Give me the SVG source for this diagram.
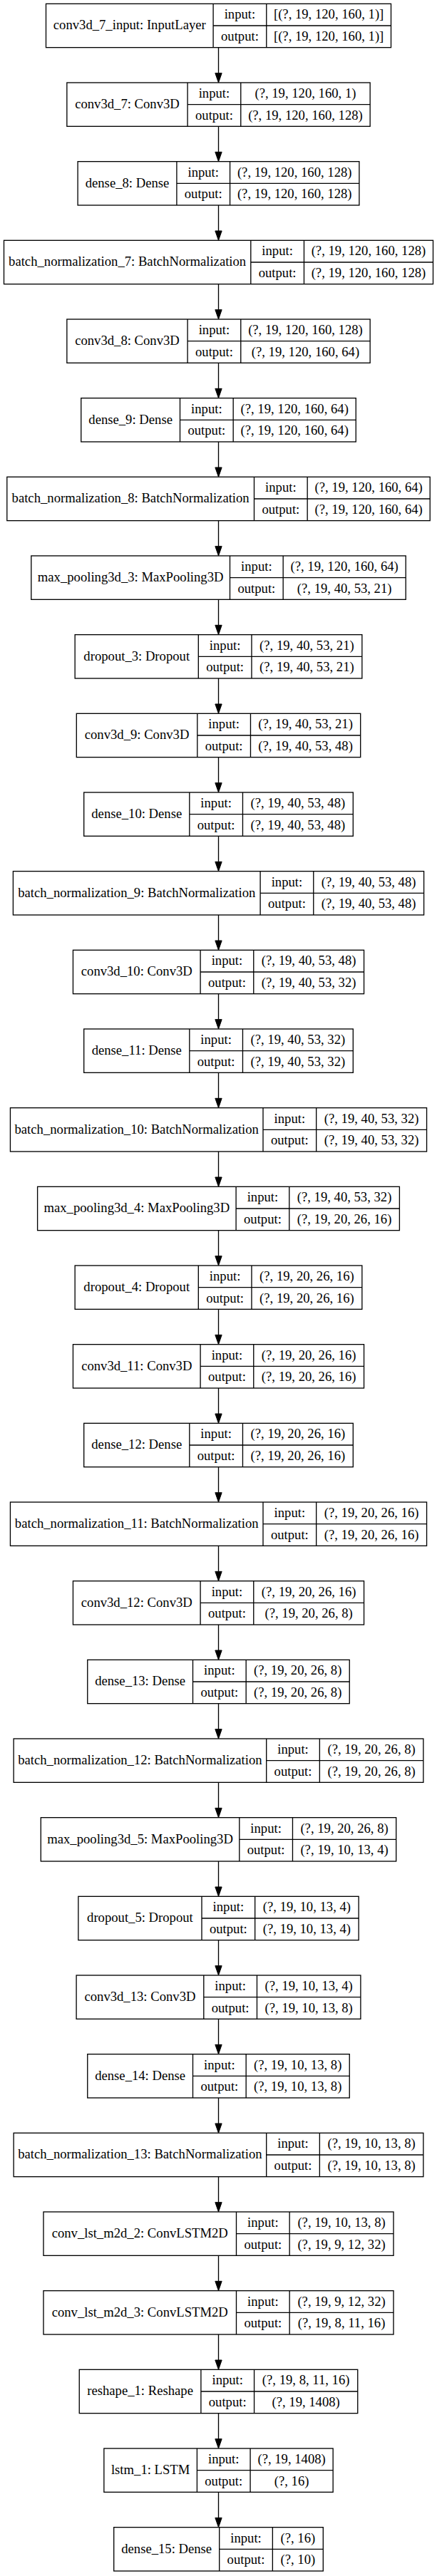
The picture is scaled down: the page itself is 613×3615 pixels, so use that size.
<svg xmlns="http://www.w3.org/2000/svg" width="613" height="3615" viewBox="0 0 613 3615">
<style>
.node rect{fill:#fff;stroke:#000;stroke-width:1.33}
.node path{fill:none;stroke:#000;stroke-width:1.33}
.node text{font-family:"Liberation Serif","Times New Roman",serif;font-size:18.67px;fill:#000;text-anchor:middle}
#edges line{stroke:#000;stroke-width:1.33;marker-end:url(#ah)}
</style>
<defs>
<marker id="ah" markerUnits="userSpaceOnUse" markerWidth="14" markerHeight="10" refX="0" refY="4.67" orient="auto" overflow="visible">
<path d="M0,0L13.33,4.67L0,9.33Z" fill="#000" stroke="#000" stroke-width="1"/>
</marker>
</defs>
<rect width="613" height="3615" fill="#fff"/>
<g id="edges">
<line x1="306.5" y1="66.67" x2="306.5" y2="102.67"/>
<line x1="306.5" y1="177.33" x2="306.5" y2="213.33"/>
<line x1="306.5" y1="288" x2="306.5" y2="324"/>
<line x1="306.5" y1="398.67" x2="306.5" y2="434.67"/>
<line x1="306.5" y1="509.33" x2="306.5" y2="545.33"/>
<line x1="306.5" y1="620" x2="306.5" y2="656"/>
<line x1="306.5" y1="730.67" x2="306.5" y2="766.67"/>
<line x1="306.5" y1="841.33" x2="306.5" y2="877.33"/>
<line x1="306.5" y1="952" x2="306.5" y2="988"/>
<line x1="306.5" y1="1062.67" x2="306.5" y2="1098.67"/>
<line x1="306.5" y1="1173.33" x2="306.5" y2="1209.33"/>
<line x1="306.5" y1="1284" x2="306.5" y2="1320"/>
<line x1="306.5" y1="1394.67" x2="306.5" y2="1430.67"/>
<line x1="306.5" y1="1505.33" x2="306.5" y2="1541.33"/>
<line x1="306.5" y1="1616" x2="306.5" y2="1652"/>
<line x1="306.5" y1="1726.67" x2="306.5" y2="1762.67"/>
<line x1="306.5" y1="1837.33" x2="306.5" y2="1873.33"/>
<line x1="306.5" y1="1948" x2="306.5" y2="1984"/>
<line x1="306.5" y1="2058.67" x2="306.5" y2="2094.67"/>
<line x1="306.5" y1="2169.33" x2="306.5" y2="2205.33"/>
<line x1="306.5" y1="2280" x2="306.5" y2="2316"/>
<line x1="306.5" y1="2390.67" x2="306.5" y2="2426.67"/>
<line x1="306.5" y1="2501.33" x2="306.5" y2="2537.33"/>
<line x1="306.5" y1="2612" x2="306.5" y2="2648"/>
<line x1="306.5" y1="2722.67" x2="306.5" y2="2758.67"/>
<line x1="306.5" y1="2833.33" x2="306.5" y2="2869.33"/>
<line x1="306.5" y1="2944" x2="306.5" y2="2980"/>
<line x1="306.5" y1="3054.67" x2="306.5" y2="3090.67"/>
<line x1="306.5" y1="3165.33" x2="306.5" y2="3201.33"/>
<line x1="306.5" y1="3276" x2="306.5" y2="3312"/>
<line x1="306.5" y1="3386.67" x2="306.5" y2="3422.67"/>
<line x1="306.5" y1="3497.33" x2="306.5" y2="3533.33"/>
</g>

<g id="conv3d_7_input" class="node" transform="translate(0,5.33)">
<rect x="64.5" y="0" width="484" height="61.33"/>
<path d="M299.1,0V61.33M373.77,0V61.33M299.1,30.67H548.5"/>
<text x="181.8" y="36">conv3d_7_input: InputLayer</text>
<text x="336.43" y="21">input:</text><text x="336.43" y="51.7">output:</text>
<text x="461.13" y="21">[(?, 19, 120, 160, 1)]</text><text x="461.13" y="51.7">[(?, 19, 120, 160, 1)]</text>
</g>

<g id="conv3d_7" class="node" transform="translate(0,116)">
<rect x="93.85" y="0" width="425.3" height="61.33"/>
<path d="M263.1,0V61.33M337.77,0V61.33M263.1,30.67H519.15"/>
<text x="178.48" y="36">conv3d_7: Conv3D</text>
<text x="300.43" y="21">input:</text><text x="300.43" y="51.7">output:</text>
<text x="428.46" y="21">(?, 19, 120, 160, 1)</text><text x="428.46" y="51.7">(?, 19, 120, 160, 128)</text>
</g>

<g id="dense_8" class="node" transform="translate(0,226.67)">
<rect x="109.1" y="0" width="394.8" height="61.33"/>
<path d="M247.9,0V61.33M322.57,0V61.33M247.9,30.67H503.9"/>
<text x="178.5" y="36">dense_8: Dense</text>
<text x="285.23" y="21">input:</text><text x="285.23" y="51.7">output:</text>
<text x="413.23" y="21">(?, 19, 120, 160, 128)</text><text x="413.23" y="51.7">(?, 19, 120, 160, 128)</text>
</g>

<g id="batch_normalization_7" class="node" transform="translate(0,337.33)">
<rect x="5.5" y="0" width="602" height="61.33"/>
<path d="M351.8,0V61.33M426.47,0V61.33M351.8,30.67H607.5"/>
<text x="178.65" y="36">batch_normalization_7: BatchNormalization</text>
<text x="389.13" y="21">input:</text><text x="389.13" y="51.7">output:</text>
<text x="516.98" y="21">(?, 19, 120, 160, 128)</text><text x="516.98" y="51.7">(?, 19, 120, 160, 128)</text>
</g>

<g id="conv3d_8" class="node" transform="translate(0,448)">
<rect x="93.85" y="0" width="425.3" height="61.33"/>
<path d="M263.1,0V61.33M337.77,0V61.33M263.1,30.67H519.15"/>
<text x="178.48" y="36">conv3d_8: Conv3D</text>
<text x="300.43" y="21">input:</text><text x="300.43" y="51.7">output:</text>
<text x="428.46" y="21">(?, 19, 120, 160, 128)</text><text x="428.46" y="51.7">(?, 19, 120, 160, 64)</text>
</g>

<g id="dense_9" class="node" transform="translate(0,558.67)">
<rect x="113.75" y="0" width="385.5" height="61.33"/>
<path d="M252.5,0V61.33M327.17,0V61.33M252.5,30.67H499.25"/>
<text x="183.13" y="36">dense_9: Dense</text>
<text x="289.83" y="21">input:</text><text x="289.83" y="51.7">output:</text>
<text x="413.21" y="21">(?, 19, 120, 160, 64)</text><text x="413.21" y="51.7">(?, 19, 120, 160, 64)</text>
</g>

<g id="batch_normalization_8" class="node" transform="translate(0,669.33)">
<rect x="9.8" y="0" width="593.4" height="61.33"/>
<path d="M356.5,0V61.33M431.17,0V61.33M356.5,30.67H603.2"/>
<text x="183.15" y="36">batch_normalization_8: BatchNormalization</text>
<text x="393.83" y="21">input:</text><text x="393.83" y="51.7">output:</text>
<text x="517.18" y="21">(?, 19, 120, 160, 64)</text><text x="517.18" y="51.7">(?, 19, 120, 160, 64)</text>
</g>

<g id="max_pooling3d_3" class="node" transform="translate(0,780)">
<rect x="43.8" y="0" width="525.4" height="61.33"/>
<path d="M322.5,0V61.33M397.17,0V61.33M322.5,30.67H569.2"/>
<text x="183.15" y="36">max_pooling3d_3: MaxPooling3D</text>
<text x="359.83" y="21">input:</text><text x="359.83" y="51.7">output:</text>
<text x="483.18" y="21">(?, 19, 120, 160, 64)</text><text x="483.18" y="51.7">(?, 19, 40, 53, 21)</text>
</g>

<g id="dropout_3" class="node" transform="translate(0,890.67)">
<rect x="105.15" y="0" width="402.7" height="61.33"/>
<path d="M278.3,0V61.33M352.97,0V61.33M278.3,30.67H507.85"/>
<text x="191.73" y="36">dropout_3: Dropout</text>
<text x="315.63" y="21">input:</text><text x="315.63" y="51.7">output:</text>
<text x="430.41" y="21">(?, 19, 40, 53, 21)</text><text x="430.41" y="51.7">(?, 19, 40, 53, 21)</text>
</g>

<g id="conv3d_9" class="node" transform="translate(0,1001.33)">
<rect x="107.3" y="0" width="398.4" height="61.33"/>
<path d="M276.8,0V61.33M351.47,0V61.33M276.8,30.67H505.7"/>
<text x="192.05" y="36">conv3d_9: Conv3D</text>
<text x="314.13" y="21">input:</text><text x="314.13" y="51.7">output:</text>
<text x="428.58" y="21">(?, 19, 40, 53, 21)</text><text x="428.58" y="51.7">(?, 19, 40, 53, 48)</text>
</g>

<g id="dense_10" class="node" transform="translate(0,1112)">
<rect x="117.7" y="0" width="377.6" height="61.33"/>
<path d="M265.8,0V61.33M340.47,0V61.33M265.8,30.67H495.3"/>
<text x="191.75" y="36">dense_10: Dense</text>
<text x="303.13" y="21">input:</text><text x="303.13" y="51.7">output:</text>
<text x="417.88" y="21">(?, 19, 40, 53, 48)</text><text x="417.88" y="51.7">(?, 19, 40, 53, 48)</text>
</g>

<g id="batch_normalization_9" class="node" transform="translate(0,1222.67)">
<rect x="18.4" y="0" width="576.2" height="61.33"/>
<path d="M365.1,0V61.33M439.77,0V61.33M365.1,30.67H594.6"/>
<text x="191.75" y="36">batch_normalization_9: BatchNormalization</text>
<text x="402.43" y="21">input:</text><text x="402.43" y="51.7">output:</text>
<text x="517.18" y="21">(?, 19, 40, 53, 48)</text><text x="517.18" y="51.7">(?, 19, 40, 53, 48)</text>
</g>

<g id="conv3d_10" class="node" transform="translate(0,1333.33)">
<rect x="102.45" y="0" width="408.1" height="61.33"/>
<path d="M281.1,0V61.33M355.77,0V61.33M281.1,30.67H510.55"/>
<text x="191.78" y="36">conv3d_10: Conv3D</text>
<text x="318.43" y="21">input:</text><text x="318.43" y="51.7">output:</text>
<text x="433.16" y="21">(?, 19, 40, 53, 48)</text><text x="433.16" y="51.7">(?, 19, 40, 53, 32)</text>
</g>

<g id="dense_11" class="node" transform="translate(0,1444)">
<rect x="117.7" y="0" width="377.6" height="61.33"/>
<path d="M265.8,0V61.33M340.47,0V61.33M265.8,30.67H495.3"/>
<text x="191.75" y="36">dense_11: Dense</text>
<text x="303.13" y="21">input:</text><text x="303.13" y="51.7">output:</text>
<text x="417.88" y="21">(?, 19, 40, 53, 32)</text><text x="417.88" y="51.7">(?, 19, 40, 53, 32)</text>
</g>

<g id="batch_normalization_10" class="node" transform="translate(0,1554.67)">
<rect x="14.45" y="0" width="584.1" height="61.33"/>
<path d="M369,0V61.33M443.67,0V61.33M369,30.67H598.55"/>
<text x="191.73" y="36">batch_normalization_10: BatchNormalization</text>
<text x="406.33" y="21">input:</text><text x="406.33" y="51.7">output:</text>
<text x="521.11" y="21">(?, 19, 40, 53, 32)</text><text x="521.11" y="51.7">(?, 19, 40, 53, 32)</text>
</g>

<g id="max_pooling3d_4" class="node" transform="translate(0,1665.33)">
<rect x="52.6" y="0" width="507.8" height="61.33"/>
<path d="M331.1,0V61.33M405.77,0V61.33M331.1,30.67H560.4"/>
<text x="191.85" y="36">max_pooling3d_4: MaxPooling3D</text>
<text x="368.43" y="21">input:</text><text x="368.43" y="51.7">output:</text>
<text x="483.08" y="21">(?, 19, 40, 53, 32)</text><text x="483.08" y="51.7">(?, 19, 20, 26, 16)</text>
</g>

<g id="dropout_4" class="node" transform="translate(0,1776)">
<rect x="105.15" y="0" width="402.7" height="61.33"/>
<path d="M278.3,0V61.33M352.97,0V61.33M278.3,30.67H507.85"/>
<text x="191.73" y="36">dropout_4: Dropout</text>
<text x="315.63" y="21">input:</text><text x="315.63" y="51.7">output:</text>
<text x="430.41" y="21">(?, 19, 20, 26, 16)</text><text x="430.41" y="51.7">(?, 19, 20, 26, 16)</text>
</g>

<g id="conv3d_11" class="node" transform="translate(0,1886.67)">
<rect x="102.45" y="0" width="408.1" height="61.33"/>
<path d="M281.1,0V61.33M355.77,0V61.33M281.1,30.67H510.55"/>
<text x="191.78" y="36">conv3d_11: Conv3D</text>
<text x="318.43" y="21">input:</text><text x="318.43" y="51.7">output:</text>
<text x="433.16" y="21">(?, 19, 20, 26, 16)</text><text x="433.16" y="51.7">(?, 19, 20, 26, 16)</text>
</g>

<g id="dense_12" class="node" transform="translate(0,1997.33)">
<rect x="117.7" y="0" width="377.6" height="61.33"/>
<path d="M265.8,0V61.33M340.47,0V61.33M265.8,30.67H495.3"/>
<text x="191.75" y="36">dense_12: Dense</text>
<text x="303.13" y="21">input:</text><text x="303.13" y="51.7">output:</text>
<text x="417.88" y="21">(?, 19, 20, 26, 16)</text><text x="417.88" y="51.7">(?, 19, 20, 26, 16)</text>
</g>

<g id="batch_normalization_11" class="node" transform="translate(0,2108)">
<rect x="14.45" y="0" width="584.1" height="61.33"/>
<path d="M369,0V61.33M443.67,0V61.33M369,30.67H598.55"/>
<text x="191.73" y="36">batch_normalization_11: BatchNormalization</text>
<text x="406.33" y="21">input:</text><text x="406.33" y="51.7">output:</text>
<text x="521.11" y="21">(?, 19, 20, 26, 16)</text><text x="521.11" y="51.7">(?, 19, 20, 26, 16)</text>
</g>

<g id="conv3d_12" class="node" transform="translate(0,2218.67)">
<rect x="102.45" y="0" width="408.1" height="61.33"/>
<path d="M281.1,0V61.33M355.77,0V61.33M281.1,30.67H510.55"/>
<text x="191.78" y="36">conv3d_12: Conv3D</text>
<text x="318.43" y="21">input:</text><text x="318.43" y="51.7">output:</text>
<text x="433.16" y="21">(?, 19, 20, 26, 16)</text><text x="433.16" y="51.7">(?, 19, 20, 26, 8)</text>
</g>

<g id="dense_13" class="node" transform="translate(0,2329.33)">
<rect x="122.75" y="0" width="367.5" height="61.33"/>
<path d="M270.5,0V61.33M345.17,0V61.33M270.5,30.67H490.25"/>
<text x="196.63" y="36">dense_13: Dense</text>
<text x="307.83" y="21">input:</text><text x="307.83" y="51.7">output:</text>
<text x="417.71" y="21">(?, 19, 20, 26, 8)</text><text x="417.71" y="51.7">(?, 19, 20, 26, 8)</text>
</g>

<g id="batch_normalization_12" class="node" transform="translate(0,2440)">
<rect x="19.15" y="0" width="574.7" height="61.33"/>
<path d="M373.7,0V61.33M448.37,0V61.33M373.7,30.67H593.85"/>
<text x="196.43" y="36">batch_normalization_12: BatchNormalization</text>
<text x="411.03" y="21">input:</text><text x="411.03" y="51.7">output:</text>
<text x="521.11" y="21">(?, 19, 20, 26, 8)</text><text x="521.11" y="51.7">(?, 19, 20, 26, 8)</text>
</g>

<g id="max_pooling3d_5" class="node" transform="translate(0,2550.67)">
<rect x="57.3" y="0" width="498.4" height="61.33"/>
<path d="M335.8,0V61.33M410.47,0V61.33M335.8,30.67H555.7"/>
<text x="196.55" y="36">max_pooling3d_5: MaxPooling3D</text>
<text x="373.13" y="21">input:</text><text x="373.13" y="51.7">output:</text>
<text x="483.08" y="21">(?, 19, 20, 26, 8)</text><text x="483.08" y="51.7">(?, 19, 10, 13, 4)</text>
</g>

<g id="dropout_5" class="node" transform="translate(0,2661.33)">
<rect x="109.85" y="0" width="393.3" height="61.33"/>
<path d="M283,0V61.33M357.67,0V61.33M283,30.67H503.15"/>
<text x="196.43" y="36">dropout_5: Dropout</text>
<text x="320.33" y="21">input:</text><text x="320.33" y="51.7">output:</text>
<text x="430.41" y="21">(?, 19, 10, 13, 4)</text><text x="430.41" y="51.7">(?, 19, 10, 13, 4)</text>
</g>

<g id="conv3d_13" class="node" transform="translate(0,2772)">
<rect x="107.1" y="0" width="398.8" height="61.33"/>
<path d="M285.8,0V61.33M360.47,0V61.33M285.8,30.67H505.9"/>
<text x="196.45" y="36">conv3d_13: Conv3D</text>
<text x="323.13" y="21">input:</text><text x="323.13" y="51.7">output:</text>
<text x="433.18" y="21">(?, 19, 10, 13, 4)</text><text x="433.18" y="51.7">(?, 19, 10, 13, 8)</text>
</g>

<g id="dense_14" class="node" transform="translate(0,2882.67)">
<rect x="122.75" y="0" width="367.5" height="61.33"/>
<path d="M270.5,0V61.33M345.17,0V61.33M270.5,30.67H490.25"/>
<text x="196.63" y="36">dense_14: Dense</text>
<text x="307.83" y="21">input:</text><text x="307.83" y="51.7">output:</text>
<text x="417.71" y="21">(?, 19, 10, 13, 8)</text><text x="417.71" y="51.7">(?, 19, 10, 13, 8)</text>
</g>

<g id="batch_normalization_13" class="node" transform="translate(0,2993.33)">
<rect x="19.15" y="0" width="574.7" height="61.33"/>
<path d="M373.7,0V61.33M448.37,0V61.33M373.7,30.67H593.85"/>
<text x="196.43" y="36">batch_normalization_13: BatchNormalization</text>
<text x="411.03" y="21">input:</text><text x="411.03" y="51.7">output:</text>
<text x="521.11" y="21">(?, 19, 10, 13, 8)</text><text x="521.11" y="51.7">(?, 19, 10, 13, 8)</text>
</g>

<g id="conv_lst_m2d_2" class="node" transform="translate(0,3104)">
<rect x="61" y="0" width="491" height="61.33"/>
<path d="M331.5,0V61.33M406.17,0V61.33M331.5,30.67H552"/>
<text x="196.25" y="36">conv_lst_m2d_2: ConvLSTM2D</text>
<text x="368.83" y="21">input:</text><text x="368.83" y="51.7">output:</text>
<text x="479.08" y="21">(?, 19, 10, 13, 8)</text><text x="479.08" y="51.7">(?, 19, 9, 12, 32)</text>
</g>

<g id="conv_lst_m2d_3" class="node" transform="translate(0,3214.67)">
<rect x="61" y="0" width="491" height="61.33"/>
<path d="M331.5,0V61.33M406.17,0V61.33M331.5,30.67H552"/>
<text x="196.25" y="36">conv_lst_m2d_3: ConvLSTM2D</text>
<text x="368.83" y="21">input:</text><text x="368.83" y="51.7">output:</text>
<text x="479.08" y="21">(?, 19, 9, 12, 32)</text><text x="479.08" y="51.7">(?, 19, 8, 11, 16)</text>
</g>

<g id="reshape_1" class="node" transform="translate(0,3325.33)">
<rect x="111.25" y="0" width="390.5" height="61.33"/>
<path d="M281.9,0V61.33M356.57,0V61.33M281.9,30.67H501.75"/>
<text x="196.58" y="36">reshape_1: Reshape</text>
<text x="319.23" y="21">input:</text><text x="319.23" y="51.7">output:</text>
<text x="429.16" y="21">(?, 19, 8, 11, 16)</text><text x="429.16" y="51.7">(?, 19, 1408)</text>
</g>

<g id="lstm_1" class="node" transform="translate(0,3436)">
<rect x="145.85" y="0" width="321.3" height="61.33"/>
<path d="M276.4,0V61.33M351.07,0V61.33M276.4,30.67H467.15"/>
<text x="211.13" y="36">lstm_1: LSTM</text>
<text x="313.73" y="21">input:</text><text x="313.73" y="51.7">output:</text>
<text x="409.11" y="21">(?, 19, 1408)</text><text x="409.11" y="51.7">(?, 16)</text>
</g>

<g id="dense_15" class="node" transform="translate(0,3546.67)">
<rect x="159.7" y="0" width="293.6" height="61.33"/>
<path d="M307.7,0V61.33M382.37,0V61.33M307.7,30.67H453.3"/>
<text x="233.7" y="36">dense_15: Dense</text>
<text x="345.03" y="21">input:</text><text x="345.03" y="51.7">output:</text>
<text x="417.84" y="21">(?, 16)</text><text x="417.84" y="51.7">(?, 10)</text>
</g>
</svg>
